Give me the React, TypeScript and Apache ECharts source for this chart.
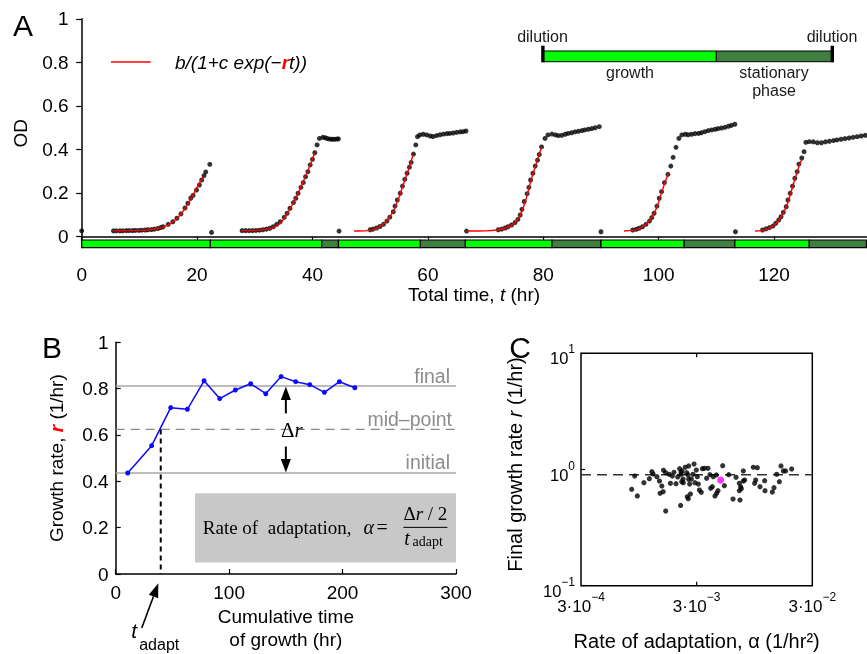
import React, { useEffect, useRef } from 'react';
import * as echarts from 'echarts';

const SANS = 'Liberation Sans, Arial, Helvetica, sans-serif';
const SERIF = 'Liberation Serif, Times New Roman, serif';

// ---------------- Panel A : OD vs total time ----------------
const dilutionPoints = [[0, 0.025], [22.5, 0.018], [44.6, 0.024], [66.7, 0.024], [90.0, 0.021], [113.3, 0.021]];
const cycle1 = [[5.5,0.025],[6.0,0.025],[6.6,0.025],[7.1,0.025],[7.7,0.026],[8.2,0.026],[8.8,0.026],[9.3,0.027],[9.9,0.027],[10.4,0.028],[11.0,0.029],[11.5,0.030],[12.1,0.031],[12.6,0.033],[13.2,0.036],[13.7,0.040],[14.1,0.044],[15.0,0.055],[15.8,0.067],[16.5,0.083],[17.2,0.103],[17.9,0.130],[18.4,0.152],[18.9,0.175],[19.3,0.188],[19.9,0.213],[20.4,0.236],[20.8,0.259],[21.2,0.279],[21.5,0.296],[22.2,0.331]];
const cycle2 = [[27.8,0.026],[28.4,0.026],[29.0,0.026],[29.6,0.026],[30.2,0.027],[30.8,0.028],[31.4,0.030],[32.0,0.033],[32.6,0.037],[33.2,0.044],[33.8,0.055],[34.4,0.067],[35.1,0.087],[35.6,0.106],[36.1,0.129],[36.7,0.155],[37.1,0.175],[37.5,0.198],[38.0,0.225],[38.4,0.247],[38.8,0.274],[39.2,0.297],[39.6,0.328],[40.0,0.354],[40.4,0.384],[40.8,0.420],[41.2,0.450],[41.8,0.455],[42.2,0.453],[42.6,0.449],[43.0,0.447],[43.4,0.446],[43.8,0.446],[44.2,0.447],[44.5,0.448]];
const cycle3 = [[50.0,0.030],[50.5,0.033],[51.1,0.038],[51.7,0.045],[52.3,0.055],[52.9,0.070],[53.4,0.088],[54.0,0.113],[54.3,0.139],[54.7,0.167],[55.2,0.198],[55.6,0.231],[56.0,0.262],[56.4,0.290],[56.8,0.318],[57.1,0.340],[57.5,0.378],[57.9,0.420],[58.2,0.458],[58.6,0.466],[59.2,0.469],[59.8,0.466],[60.4,0.461],[60.9,0.459],[61.5,0.463],[62.1,0.467],[62.7,0.470],[63.3,0.472],[63.8,0.473],[64.4,0.475],[65.0,0.478],[65.6,0.480],[66.1,0.481],[66.6,0.484]];
const cycle4 = [[72.2,0.030],[72.8,0.033],[73.4,0.038],[73.9,0.044],[74.5,0.052],[75.1,0.063],[75.6,0.078],[76.0,0.098],[76.3,0.124],[76.7,0.160],[77.2,0.196],[77.5,0.225],[77.8,0.259],[78.2,0.290],[78.6,0.323],[79.0,0.350],[79.3,0.376],[79.7,0.411],[80.3,0.450],[80.8,0.466],[81.5,0.470],[82.1,0.466],[82.6,0.463],[83.2,0.464],[83.8,0.469],[84.3,0.473],[84.9,0.476],[85.5,0.480],[86.1,0.483],[86.7,0.486],[87.2,0.489],[87.8,0.492],[88.4,0.495],[89.0,0.499],[89.7,0.504]];
const cycle5 = [[95.5,0.029],[96.1,0.032],[96.6,0.037],[97.2,0.044],[97.8,0.055],[98.4,0.070],[98.8,0.086],[99.2,0.106],[99.7,0.139],[100.1,0.175],[100.5,0.205],[101.0,0.247],[101.6,0.285],[102.1,0.323],[102.5,0.363],[103.0,0.409],[103.5,0.450],[104.0,0.466],[104.6,0.469],[105.1,0.467],[105.7,0.469],[106.3,0.472],[106.9,0.473],[107.4,0.476],[108.0,0.481],[108.6,0.486],[109.2,0.489],[109.8,0.492],[110.3,0.495],[110.9,0.498],[111.5,0.501],[112.1,0.506],[112.6,0.510],[113.2,0.515]];
const cycle6 = [[118.0,0.029],[118.6,0.034],[119.2,0.040],[119.8,0.047],[120.3,0.060],[120.8,0.075],[121.2,0.090],[121.6,0.110],[122.1,0.136],[122.4,0.167],[122.8,0.198],[123.2,0.231],[123.6,0.267],[124.0,0.297],[124.3,0.332],[124.8,0.360],[125.2,0.389],[125.5,0.432],[126.1,0.435],[126.8,0.434],[127.5,0.430],[128.2,0.430],[128.9,0.434],[129.6,0.437],[130.3,0.440],[130.9,0.443],[131.6,0.446],[132.3,0.449],[133.0,0.452],[133.7,0.455],[134.4,0.458],[135.1,0.461],[135.8,0.464]];
const fit1 = [[5.5,0.025],[8,0.026],[10,0.027],[12,0.031],[13.5,0.038],[15,0.053],[16.5,0.082],[17.5,0.112],[18.5,0.152],[19.5,0.200],[20.3,0.240],[21.0,0.272]];
const fit2 = [[27.8,0.026],[30,0.027],[32,0.032],[33.5,0.043],[34.5,0.062],[35.5,0.098],[36.5,0.145],[37.5,0.198],[38.5,0.258],[39.5,0.322],[40.4,0.384]];
const fit3 = [[47.2,0.024],[49.5,0.026],[51,0.035],[52,0.050],[53,0.075],[54,0.115],[55,0.180],[56,0.258],[57,0.335],[57.4,0.375]];
const fit4 = [[66.7,0.024],[70,0.025],[72,0.029],[73.5,0.038],[74.5,0.051],[75.5,0.074],[76.3,0.115],[77,0.170],[77.8,0.250],[78.6,0.320],[79.7,0.410]];
const fit5 = [[94,0.024],[95.5,0.027],[96.6,0.035],[97.8,0.055],[98.8,0.086],[99.7,0.135],[100.5,0.200],[101.2,0.255],[101.7,0.290]];
const fit6 = [[116.7,0.024],[118,0.027],[119.2,0.038],[120.3,0.058],[121.2,0.088],[122.1,0.135],[122.8,0.190],[123.6,0.262],[124.3,0.320],[124.8,0.354]];
const phases: [number, number, string][] = [[0,22.3,'growth'],[22.3,41.6,'growth'],[41.6,44.5,'stationary'],[44.5,58.7,'growth'],[58.7,66.5,'stationary'],[66.5,81.5,'growth'],[81.5,90.0,'stationary'],[90.0,104.4,'growth'],[104.4,113.2,'stationary'],[113.2,126.1,'growth'],[126.1,136,'stationary']];
const odTicks = [0, 0.2, 0.4, 0.6, 0.8, 1];
const timeTicks = [0, 20, 40, 60, 80, 100, 120];

// ---------------- Panel B : growth rate vs cumulative growth time ----------------
const cumTime = [10.6, 31.7, 48.5, 63.2, 77.9, 91.7, 105.5, 119.0, 132.3, 145.8, 158.7, 171.1, 184.0, 197.2, 210.8];
const growthRate = [0.436, 0.554, 0.718, 0.711, 0.834, 0.757, 0.794, 0.821, 0.778, 0.852, 0.830, 0.817, 0.784, 0.830, 0.804];
const initialRate = 0.436;
const finalRate = 0.811;
const midRate = 0.624;
const tAdapt = 39.7;

// ---------------- Panel C : final growth rate vs rate of adaptation ----------------
const adaptRateMilli = [0.874,0.823,0.921,1.05,1.17,1.23,1.26,1.36,1.43,1.50,1.45,1.54,1.62,1.55,1.62,1.74,1.78,1.85,1.91,1.99,2.06,2.14,2.20,2.24,2.20,2.29,2.23,2.30,2.39,2.46,2.56,2.53,2.56,2.61,2.49,2.54,2.65,2.70,2.79,2.85,2.90,2.98,3.04,3.10,3.17,3.29,3.36,3.50,3.76,3.66,3.91,3.97,4.10,4.18,4.44,4.47,4.59,4.32,5.04,5.21,5.68,6.19,6.57,7.11,7.02,7.21,7.02,7.60,7.60,7.80,7.30,9.27,9.52,9.72,10.04,10.59,11.62,11.70,13.54,14.0,14.76,15.56,16.09,16.85,17.65,19.89,2.18];
const finalGrowth = [0.879,0.675,0.592,0.770,0.834,0.958,0.915,0.868,0.796,0.721,0.624,0.645,0.439,0.984,0.939,0.909,0.760,0.879,0.945,0.755,0.862,1.017,0.952,0.971,0.909,0.828,0.786,0.770,1.044,0.939,1.072,0.897,0.823,0.750,0.584,0.561,0.615,0.828,0.909,1.115,0.770,0.990,0.868,0.750,0.666,0.636,1.017,1.023,1.023,0.839,0.903,0.688,0.712,0.868,0.897,0.624,0.657,0.592,1.079,0.726,0.903,0.557,0.856,0.546,0.657,0.712,0.760,0.971,0.796,0.812,0.684,1.044,0.760,0.812,1.037,0.712,0.801,0.657,0.640,0.698,0.909,0.786,1.072,0.971,0.971,1.010,0.491];
const highlighted = [[4.84e-3, 0.81]];
const meanFinalGrowth = 0.90;
const alphaTicks = [3e-4, 3e-3, 3e-2];
const alphaTickExp = ['−4', '−3', '−2'];

const GREEN = '#00ff00';
const DARK_GREEN = '#3f7f3f';
const STRIP_TOP = -0.017;
const STRIP_BOTTOM = -0.052;

export default function App() {
  const ref = useRef<HTMLDivElement>(null);
  useEffect(() => {
    const chart = echarts.init(ref.current as HTMLDivElement, null, { renderer: 'svg' });
    const black = '#000';
    const axLine = { show: true, lineStyle: { color: black, width: 1.5 } };
    const tickStyle = { color: black, width: 1.2 };
    const fitSeries = [fit1, fit2, fit3, fit4, fit5, fit6].map((f) => ({
      type: 'line', xAxisIndex: 0, yAxisIndex: 0, data: f, symbol: 'none', smooth: 0.3,
      lineStyle: { color: '#ff0000', width: 1.4 }, z: 4, silent: true,
    }));
    const odLabel = (v: number) => (Math.abs(v * 5 - Math.round(v * 5)) < 1e-6 ? String(+v.toFixed(1)) : '');
    const option: any = {
      animation: false,
      textStyle: { fontFamily: SANS },
      grid: [
        { left: 81.7, right: 0.6, top: 18.8, bottom: 406.4 },
        { left: 115.7, right: 411, top: 342.3, bottom: 80 },
        { left: 581, right: 54.7, top: 353.3, bottom: 68.3, show: true, borderColor: black, borderWidth: 1.5 },
      ],
      xAxis: [
        {
          gridIndex: 0, type: 'value', min: 0, max: 136, interval: 20,
          axisLine: axLine,
          axisTick: { show: true, inside: false, length: 5.5, customValues: timeTicks, lineStyle: tickStyle },
          axisLabel: { customValues: timeTicks, fontSize: 19, color: black, margin: 17, formatter: (v: number) => (v % 20 === 0 ? String(v) : '') },
          splitLine: { show: false },
          name: 'Total time, {i|t} (hr)', nameLocation: 'middle', nameGap: 37,
          nameTextStyle: { fontSize: 19, color: black, rich: { i: { fontSize: 19, fontStyle: 'italic', color: black } } },
        },
        {
          gridIndex: 1, type: 'value', min: 0, max: 300, interval: 100,
          axisLine: axLine,
          axisTick: { show: true, inside: true, length: 5, lineStyle: tickStyle },
          axisLabel: { fontSize: 19, color: black, margin: 9 },
          splitLine: { show: false },
          name: 'Cumulative time\nof growth (hr)', nameLocation: 'middle', nameGap: 31,
          nameTextStyle: { fontSize: 19, color: black, lineHeight: 23, verticalAlign: 'top' },
        },
        {
          gridIndex: 2, type: 'log', logBase: 10, min: 3e-4, max: 3e-2,
          axisLine: { show: false }, axisTick: { show: false }, axisLabel: { show: false },
          splitLine: { show: false },
          name: 'Rate of adaptation, α (1/hr²)', nameLocation: 'middle', nameGap: 45,
          nameTextStyle: { fontSize: 20, color: black, verticalAlign: 'top' },
        },
      ],
      yAxis: [
        {
          gridIndex: 0, type: 'value', min: STRIP_BOTTOM, max: 1,
          axisLine: axLine,
          axisTick: { show: true, inside: false, length: 5.5, customValues: odTicks, lineStyle: tickStyle },
          axisLabel: { customValues: odTicks, fontSize: 19, color: black, margin: 13, formatter: odLabel },
          splitLine: { show: false },
          name: 'OD', nameLocation: 'middle', nameGap: 52, nameRotate: 90,
          nameTextStyle: { fontSize: 19, color: black },
        },
        {
          gridIndex: 1, type: 'value', min: 0, max: 1, interval: 0.2,
          axisLine: axLine,
          axisTick: { show: true, inside: true, length: 5, lineStyle: tickStyle },
          axisLabel: { fontSize: 19, color: black, margin: 7 },
          splitLine: { show: false },
          name: 'Growth rate, {r|r} (1/hr)', nameLocation: 'middle', nameGap: 50, nameRotate: 90,
          nameTextStyle: { fontSize: 19, color: black, rich: { r: { fontSize: 19, color: '#ff0000', fontWeight: 'bold', fontStyle: 'italic' } } },
        },
        {
          gridIndex: 2, type: 'log', logBase: 10, min: 0.1, max: 10,
          axisLine: { show: false },
          axisTick: { show: true, inside: true, length: 4, lineStyle: tickStyle },
          axisLabel: {
            color: black, margin: 6,
            formatter: (v: number) => {
              const e = Math.round(Math.log10(v));
              return '{b|10}{s|' + (e < 0 ? '−' + Math.abs(e) : String(e)) + '}';
            },
            rich: {
              b: { fontSize: 16.5, color: black, padding: [10, 0, 0, 0] },
              s: { fontSize: 12, color: black, padding: [0, 0, 8, 0] },
            },
          },
          splitLine: { show: false },
          name: 'Final growth rate {i|r} (1/hr)', nameLocation: 'middle', nameGap: 56, nameRotate: 90,
          nameTextStyle: { fontSize: 20, color: black, padding: [0, 0, 0, 10], rich: { i: { fontSize: 20, fontStyle: 'italic', color: black } } },
        },
      ],
      series: [
        {
          type: 'custom', xAxisIndex: 0, yAxisIndex: 0, silent: true, z: 1,
          encode: { x: [0, 1], y: 2 },
          data: phases.map((p) => [p[0], p[1], p[2] === 'growth' ? 0 : 1]),
          renderItem: (params: any, api: any) => {
            const a = api.coord([api.value(0), STRIP_TOP]);
            const b = api.coord([api.value(1), STRIP_BOTTOM]);
            return {
              type: 'rect',
              shape: { x: a[0], y: a[1], width: b[0] - a[0], height: b[1] - a[1] },
              style: { fill: api.value(2) === 0 ? GREEN : DARK_GREEN, stroke: black, lineWidth: 1.2 },
            };
          },
        },
        {
          type: 'scatter', xAxisIndex: 0, yAxisIndex: 0, symbolSize: 5, silent: true, z: 3,
          itemStyle: { color: black },
          data: [...dilutionPoints, ...cycle1, ...cycle2, ...cycle3, ...cycle4, ...cycle5, ...cycle6],
        },
        ...fitSeries,
        // Panel B
        {
          type: 'line', xAxisIndex: 1, yAxisIndex: 1, data: [[0, finalRate], [300, finalRate]], symbol: 'none', silent: true, z: 1,
          lineStyle: { color: '#a6a6a6', width: 1.5 },
        },
        {
          type: 'line', xAxisIndex: 1, yAxisIndex: 1, data: [[0, initialRate], [300, initialRate]], symbol: 'none', silent: true, z: 1,
          lineStyle: { color: '#a6a6a6', width: 1.5 },
        },
        {
          type: 'line', xAxisIndex: 1, yAxisIndex: 1, data: [[0, midRate], [300, midRate]], symbol: 'none', silent: true, z: 1,
          lineStyle: { color: '#8a8a8a', width: 1.3, type: [9, 6] },
        },
        {
          type: 'line', xAxisIndex: 1, yAxisIndex: 1, data: [[tAdapt, midRate], [tAdapt, 0]], symbol: 'none', silent: true, z: 2,
          lineStyle: { color: black, width: 2, type: [5, 4] },
        },
        {
          type: 'line', xAxisIndex: 1, yAxisIndex: 1, silent: true, z: 3,
          data: cumTime.map((t, i) => [t, growthRate[i]]),
          symbol: 'circle', symbolSize: 5, showSymbol: true,
          lineStyle: { color: '#0a0aff', width: 1.5 }, itemStyle: { color: '#0a0aff' },
          markArea: { silent: true, itemStyle: { color: '#c8c8c8' }, data: [[{ coord: [70, 0.05] }, { coord: [300, 0.348] }]] },
        },
        // Panel C
        {
          type: 'line', xAxisIndex: 2, yAxisIndex: 2, data: [[3e-4, meanFinalGrowth], [3e-2, meanFinalGrowth]], symbol: 'none', silent: true, z: 1,
          lineStyle: { color: '#333', width: 1.5, type: [10, 6] },
        },
        {
          type: 'scatter', xAxisIndex: 2, yAxisIndex: 2, symbolSize: 5.2, silent: true, z: 3,
          itemStyle: { color: black },
          data: adaptRateMilli.map((a, i) => [a * 1e-3, finalGrowth[i]]),
        },
        {
          type: 'scatter', xAxisIndex: 2, yAxisIndex: 2, symbolSize: 7, silent: true, z: 4,
          itemStyle: { color: '#ff00ff' }, data: highlighted,
        },
      ],
    };
    chart.setOption(option);

    const pB = (x: number, y: number) => chart.convertToPixel({ gridIndex: 1 } as any, [x, y]) as number[];
    const pC = (x: number, y: number) => chart.convertToPixel({ gridIndex: 2 } as any, [x, y]) as number[];
    const txt = (text: string, x: number, y: number, extra: any = {}) => ({
      type: 'text', silent: true, z: 50,
      style: { text, x, y, fontFamily: SANS, fontSize: 19, fill: black, align: 'center', verticalAlign: 'middle', ...extra },
    });
    const g: any[] = [];
    // panel letters
    g.push(txt('A', 23, 25, { fontSize: 30 }));
    g.push(txt('B', 52, 347, { fontSize: 30 }));
    g.push(txt('C', 520, 347, { fontSize: 30 }));
    // legend of panel A
    g.push({ type: 'line', silent: true, z: 50, shape: { x1: 111, y1: 62, x2: 150.7, y2: 62 }, style: { stroke: '#ff0000', lineWidth: 1.5 } });
    g.push(txt('{i|b/(1+c exp(−}{r|r}{i|t))}', 175, 62, {
      align: 'left',
      rich: {
        i: { fontSize: 19, fontStyle: 'italic', fontFamily: SANS, fill: black },
        r: { fontSize: 19, fontStyle: 'italic', fontWeight: 'bold', fontFamily: SANS, fill: '#ff0000' },
      },
    }));
    // inset bar
    g.push({ type: 'rect', silent: true, z: 50, shape: { x: 542.7, y: 51, width: 173.6, height: 10.7 }, style: { fill: GREEN, stroke: black, lineWidth: 1 } });
    g.push({ type: 'rect', silent: true, z: 50, shape: { x: 716.3, y: 51, width: 116.4, height: 10.7 }, style: { fill: DARK_GREEN, stroke: black, lineWidth: 1 } });
    g.push({ type: 'rect', silent: true, z: 51, shape: { x: 541.2, y: 45.7, width: 3.4, height: 16.6 }, style: { fill: black } });
    g.push({ type: 'rect', silent: true, z: 51, shape: { x: 830.6, y: 45.7, width: 3.4, height: 16.6 }, style: { fill: black } });
    const insetText = { fontSize: 16, fill: '#1a1a1a' };
    g.push(txt('dilution', 542.5, 36.5, insetText));
    g.push(txt('dilution', 832, 36.5, insetText));
    g.push(txt('growth', 630, 72, insetText));
    g.push(txt('stationary', 774, 72, insetText));
    g.push(txt('phase', 774, 90, insetText));

    // Panel B annotations
    const grayTxt = { fill: '#8c8c8c', align: 'right', verticalAlign: 'bottom', fontSize: 19.5 };
    const pf = pB(300, finalRate);
    const pm = pB(300, midRate);
    const pi = pB(300, initialRate);
    g.push(txt('final', pf[0] - 6, pf[1] - 0.5, grayTxt));
    g.push(txt('mid–point', pm[0] - 4, pm[1] - 0.5, grayTxt));
    g.push(txt('initial', pi[0] - 6, pi[1] - 0.5, grayTxt));
    // Δr arrows
    const af = pB(150, finalRate);
    const ai = pB(150, initialRate);
    const aUp = pB(150, 0.693);
    const aDn = pB(150, 0.55);
    const ax = af[0];
    g.push({ type: 'line', silent: true, z: 50, shape: { x1: ax, y1: aUp[1], x2: ax, y2: af[1] + 12 }, style: { stroke: black, lineWidth: 2 } });
    g.push({ type: 'polygon', silent: true, z: 50, shape: { points: [[ax, af[1] + 0.5], [ax - 5, af[1] + 14], [ax + 5, af[1] + 14]] }, style: { fill: black } });
    g.push({ type: 'line', silent: true, z: 50, shape: { x1: ax, y1: aDn[1], x2: ax, y2: ai[1] - 12 }, style: { stroke: black, lineWidth: 2 } });
    g.push({ type: 'polygon', silent: true, z: 50, shape: { points: [[ax, ai[1] - 0.5], [ax - 5, ai[1] - 14], [ax + 5, ai[1] - 14]] }, style: { fill: black } });
    const amid = pB(150, midRate);
    g.push(txt('{a|Δ}{b|r}', ax + 6, amid[1] + 1, {
      rich: {
        a: { fontFamily: SERIF, fontSize: 21, fill: black },
        b: { fontFamily: SERIF, fontSize: 21, fontStyle: 'italic', fill: black },
      },
    }));
    // t_adapt arrow
    const b0 = pB(tAdapt, 0);
    const tip = [b0[0] - 2.4, b0[1] + 9.3];
    const tail = [b0[0] - 19, b0[1] + 54];
    const dx = tip[0] - tail[0], dy = tip[1] - tail[1];
    const L = Math.sqrt(dx * dx + dy * dy);
    const ux = dx / L, uy = dy / L;
    const hb = [tip[0] - 14 * ux, tip[1] - 14 * uy];
    g.push({ type: 'line', silent: true, z: 50, shape: { x1: tail[0], y1: tail[1], x2: hb[0], y2: hb[1] }, style: { stroke: black, lineWidth: 1.6 } });
    g.push({ type: 'polygon', silent: true, z: 50, shape: { points: [tip, [hb[0] - 5 * uy, hb[1] + 5 * ux], [hb[0] + 5 * uy, hb[1] - 5 * ux]] }, style: { fill: black } });
    g.push(txt('t', b0[0] - 26.5, b0[1] + 56, { fontSize: 21, fontStyle: 'italic' }));
    g.push(txt('adapt', b0[0] - 21.5, b0[1] + 70, { fontSize: 16, align: 'left' }));
    // formula in gray box
    const bx = pB(70, 0.348);
    const X0 = bx[0], Y0 = bx[1];
    const serif = { fontFamily: SERIF, fontSize: 19 };
    g.push(txt('Rate of  adaptation,', X0 + 7.7, Y0 + 33.7, { ...serif, align: 'left' }));
    g.push(txt('α', X0 + 173.7, Y0 + 33.7, { ...serif, fontSize: 20, fontStyle: 'italic' }));
    g.push(txt('=', X0 + 187, Y0 + 33.2, { ...serif, fontSize: 20 }));
    g.push({ type: 'line', silent: true, z: 50, shape: { x1: X0 + 208.3, y1: Y0 + 34, x2: X0 + 252.3, y2: Y0 + 34 }, style: { stroke: black, lineWidth: 1 } });
    g.push(txt('{a|Δ}{b|r}{a| / 2}', X0 + 230.3, Y0 + 20.4, {
      rich: {
        a: { fontFamily: SERIF, fontSize: 19, fill: black },
        b: { fontFamily: SERIF, fontSize: 19, fontStyle: 'italic', fill: black },
      },
    }));
    g.push(txt('t', X0 + 212, Y0 + 44.5, { ...serif, fontSize: 20, fontStyle: 'italic' }));
    g.push(txt('adapt', X0 + 217.5, Y0 + 48.5, { ...serif, fontSize: 14, align: 'left' }));

    // Panel C x tick labels and ticks
    alphaTicks.forEach((v, i) => {
      const p = pC(v, 0.1);
      g.push(txt('{b|3·10}{s|' + alphaTickExp[i] + '}', p[0], p[1] + 20.3, {
        rich: {
          b: { fontFamily: SANS, fontSize: 17, fill: black },
          s: { fontFamily: SANS, fontSize: 12, fill: black, padding: [0, 0, 18, 0] },
        },
      }));
      if (i === 1) {
        const q = pC(v, 10);
        g.push({ type: 'line', silent: true, z: 50, shape: { x1: p[0], y1: p[1], x2: p[0], y2: p[1] - 4 }, style: { stroke: black, lineWidth: 1.2 } });
        g.push({ type: 'line', silent: true, z: 50, shape: { x1: q[0], y1: q[1], x2: q[0], y2: q[1] + 4 }, style: { stroke: black, lineWidth: 1.2 } });
      }
    });
    chart.setOption({ graphic: g });
    return () => chart.dispose();
  }, []);
  return <div ref={ref} style={{ position: 'fixed', left: 0, top: 0, width: 867, height: 654 }} />;
}
